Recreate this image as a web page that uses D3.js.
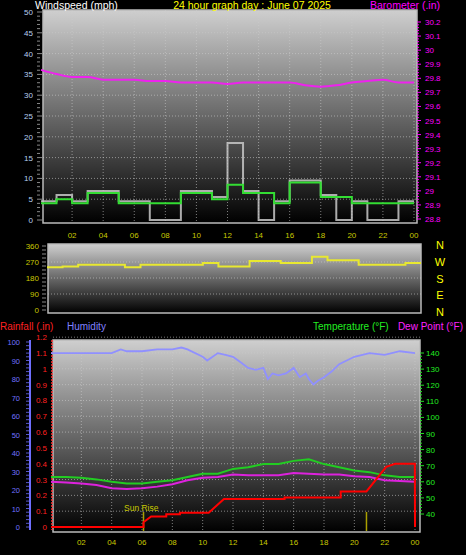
<!DOCTYPE html>
<html><head><meta charset="utf-8">
<script src="https://cdn.jsdelivr.net/npm/d3@7"></script>
<style>body{margin:0;background:#000}svg{display:block;font-family:"Liberation Sans",Arial,sans-serif}</style>
</head><body><svg id="c" width="466" height="555"></svg>
<script>
// hourly step data
var windHours = d3.range(0, 24);
var windAvg = [4,5,4,6.5,6.5,4,4,4,4,6.5,6.5,5,8.5,6.5,6.5,4,9,9,5.5,5.5,4,4,4,4];
var windGust = [4.5,6,4.5,7,7,4.5,4.5,0,0,7,7,5.5,18.5,7,0,4.5,9.5,9.5,6,0,4.5,0,0,4.5];
var baroHours = d3.range(0, 25);
var baro = [29.86,29.83,29.81,29.81,29.79,29.79,29.79,29.78,29.78,29.77,29.77,29.77,29.76,29.77,29.77,29.77,29.77,29.75,29.74,29.75,29.77,29.78,29.79,29.77,29.77];
var dirHours = d3.range(0, 24);
var windDir = [240,245,255,255,255,240,255,255,255,255,265,245,245,275,275,265,265,300,280,280,255,255,255,265];
var humHours = [0,1,2,3,4,4.6,5,6,7,8,8.6,9,10,10.3,11,11.5,12,12.5,13,13.5,14,14.3,14.6,15,15.5,16,16.4,16.8,17,17.3,17.6,18,18.5,19,19.5,20,21,22,23,24];
var humidity = [94,94,94,94,94,96,95,95,96,96,97,96,92,90,94,93,92,89,86,85,86,80,83,82,83,86,81,83,80,77,79,81,84,88,90,92,94,93,95,94];
var tHours = d3.range(0, 25);
var temp = [63,63,62.5,61.5,60,59,59,60,61,63,65,65,68,69,71,71,73,74,71,69,67,66,64,63,63];
var dew = [60,59.5,59,58,56,55.5,56,57,58.5,61,62.5,63,64.5,64,64,64,65.5,65,64.5,64.5,63.5,63,61,60.5,60];
var rainHours = [0,6.1,6.1,6.6,7.6,7.6,8.5,8.5,10.4,11.4,15.4,15.4,19.1,19.1,20.8,22.1,22.7,23.99,24];
var rain = [0,0,0.03,0.067,0.067,0.08,0.08,0.09,0.09,0.177,0.177,0.187,0.187,0.225,0.225,0.38,0.40,0.40,0];
var hourTicks = [2,4,6,8,10,12,14,16,18,20,22,24];
var windTicks = d3.range(0, 51, 5);
var baroTicks = d3.range(28.8, 30.25, 0.1);
var dirTicks = [0,90,180,270,360];
var compass = ["N","W","S","E","N"];
var humTicks = d3.range(0, 101, 10);
var rainTicks = d3.range(0, 1.25, 0.1);
var tempTicks = d3.range(40, 141, 10);
var sunMarks = [6.1, 20.8];

var svg = d3.select("#c");
var fmtH = h => h == 24 ? "00" : d3.format("02d")(h);
var defs = svg.append("defs");
var g = defs.append("linearGradient").attr("id", "bg").attr("x1", 0).attr("x2", 0).attr("y1", 0).attr("y2", 1);
g.append("stop").attr("offset", 0).attr("stop-color", "#cfcfcf");
g.append("stop").attr("offset", 1).attr("stop-color", "#000");

function panel(x0, x1, y0, y1) {
    svg.append("rect").attr("x", x0).attr("y", y0).attr("width", x1 - x0).attr("height", y1 - y0)
        .attr("fill", "url(#bg)").attr("stroke", "#bbb").attr("stroke-width", 1.5);
}
function grid(xs, ys, x, y, x0, x1, y0, y1) {
    xs.forEach(h => svg.append("line").attr("x1", x(h)).attr("x2", x(h)).attr("y1", y0).attr("y2", y1)
        .attr("stroke", "#ccc").attr("stroke-opacity", 0.6).attr("stroke-dasharray", "1,2"));
    ys.forEach(v => svg.append("line").attr("x1", x0).attr("x2", x1).attr("y1", y(v)).attr("y2", y(v))
        .attr("stroke", "#ccc").attr("stroke-opacity", 0.6).attr("stroke-dasharray", "1,2"));
}
function txt(x, y, s, col, anchor, size) {
    return svg.append("text").attr("x", x).attr("y", y).text(s).attr("fill", col)
        .attr("text-anchor", anchor || "start").attr("font-size", size || 8);
}
function stepData(hours, vals) {
    var out = [];
    hours.forEach((h, i) => { out.push([h, vals[i]]); out.push([h + 1, vals[i]]); });
    return out;
}

// ---- top: wind + barometer
var x1 = d3.scaleLinear().domain([0, 24]).range([41, 414]);
var yW = d3.scaleLinear().domain([0, 50]).range([220, 12]);
var yB = d3.scaleLinear().domain([28.8, 30.2]).range([219, 22]);
panel(43, 417, 10, 223);
grid(hourTicks, windTicks.slice(1), x1, yW, 43, 417, 10, 223);
windTicks.forEach(v => txt(33, yW(v) + 3, v, "#b8d0f0", "end"));
d3.range(0, 51).forEach(v => svg.append("line").attr("x1", 37).attr("x2", v % 5 ? 40 : 42).attr("y1", yW(v)).attr("y2", yW(v)).attr("stroke", "#888"));
baroTicks.forEach(v => txt(425, yB(v) + 3, d3.format(".1f")(v).replace(/\.0$/, ""), "#ff00ff"));
d3.range(0, 71).forEach(i => svg.append("line").attr("x1", 417).attr("x2", i % 5 ? 419 : 421).attr("y1", yB(28.8 + i * 0.02)).attr("y2", yB(28.8 + i * 0.02)).attr("stroke", "#ff00ff"));
var ln = d3.line().x(d => x1(d[0])).y(d => yW(d[1]));
svg.append("path").attr("d", ln(stepData(windHours, windGust))).attr("fill", "none").attr("stroke", "#c8c8c8").attr("stroke-width", 2).attr("opacity", 0.85);
svg.append("path").attr("d", ln(stepData(windHours, windAvg))).attr("fill", "none").attr("stroke", "#33dd33").attr("stroke-width", 2);
svg.append("path").attr("d", d3.line().x((d, i) => x1(baroHours[i])).y(d => yB(d)).curve(d3.curveMonotoneX)(baro))
    .attr("fill", "none").attr("stroke", "#ee22ee").attr("stroke-width", 2);
txt(35, 9, "Windspeed (mph)", "#fff", "start", 10.5);
txt(252, 9, "24 hour graph day : June 07 2025", "#ffff00", "middle", 10.5);
txt(440, 9, "Barometer (.in)", "#ff00ff", "end", 10.5);
hourTicks.forEach(h => txt(x1(h), 238, fmtH(h), "#c8c800", "middle"));

// ---- direction
var x2 = d3.scaleLinear().domain([0, 24]).range([47, 421]);
var yD = d3.scaleLinear().domain([0, 360]).range([310, 246]);
panel(48, 421, 244, 313);
grid([], [90, 180, 270], x2, yD, 48, 421, 244, 313);
dirTicks.forEach(v => txt(39, yD(v) + 3, v, "#c8c800", "end"));
d3.range(0, 361, 22.5).forEach(v => svg.append("line").attr("x1", 42).attr("x2", 46).attr("y1", yD(v)).attr("y2", yD(v)).attr("stroke", "#888"));
svg.append("path").attr("d", d3.line().x(d => x2(d[0])).y(d => yD(d[1]))(stepData(dirHours, windDir)))
    .attr("fill", "none").attr("stroke", "#e8e830").attr("stroke-width", 2);
compass.forEach((c, i) => txt(440, 249 + i * 16.8, c, "#ffff00", "middle", 11));

// ---- bottom
var x3 = d3.scaleLinear().domain([0, 24]).range([51, 415]);
var yH = d3.scaleLinear().domain([0, 100]).range([527, 342]);
var yR = d3.scaleLinear().domain([0, 1.1]).range([527, 353]);
var yT = d3.scaleLinear().domain([40, 140]).range([514, 353]);
panel(53, 420, 340, 532);
grid(hourTicks, rainTicks.slice(1), x3, yR, 53, 420, 340, 532);
svg.append("line").attr("x1", 30).attr("x2", 30).attr("y1", 340).attr("y2", 530).attr("stroke", "#6f6fff").attr("stroke-width", 2);
svg.append("line").attr("x1", 52).attr("x2", 52).attr("y1", 340).attr("y2", 530).attr("stroke", "#ff3333").attr("stroke-width", 1.5).attr("stroke-dasharray", "2,1");
humTicks.forEach(v => txt(20, yH(v) + 3, v, "#7070ff", "end", 7.5));
d3.range(0, 101, 2).forEach(v => svg.append("line").attr("x1", 26).attr("x2", 29).attr("y1", yH(v)).attr("y2", yH(v)).attr("stroke", "#6f6fff").attr("stroke-width", 0.8));
rainTicks.forEach(v => txt(47, yR(v) + 3, d3.format(".1f")(v).replace(/^0\./, "0.").replace(/\.0$/, ""), "#ff2020", "end", 8));
d3.range(40, 141, 2).forEach(v => svg.append("line").attr("x1", 420).attr("x2", v % 10 ? 422 : 424).attr("y1", yT(v)).attr("y2", yT(v)).attr("stroke", "#22dd22"));
tempTicks.forEach(v => txt(426, yT(v) + 3, v, "#22ee22", "start", 8));
sunMarks.forEach(h => svg.append("line").attr("x1", x3(h)).attr("x2", x3(h)).attr("y1", 512).attr("y2", 531).attr("stroke", "#aaa000").attr("stroke-width", 1.5));
txt(124, 511, "Sun Rise", "#c8c800", "start", 8.5);
svg.append("path").attr("d", d3.line().x((d, i) => x3(humHours[i])).y(d => yH(d))(humidity)).attr("fill", "none").attr("stroke", "#9090ff").attr("stroke-width", 1.8);
svg.append("path").attr("d", d3.line().x((d, i) => x3(tHours[i])).y(d => yT(d))(temp)).attr("fill", "none").attr("stroke", "#22cc22").attr("stroke-width", 2);
svg.append("path").attr("d", d3.line().x((d, i) => x3(tHours[i])).y(d => yT(d))(dew)).attr("fill", "none").attr("stroke", "#dd22dd").attr("stroke-width", 2);
svg.append("path").attr("d", d3.line().x((d, i) => x3(rainHours[i])).y(d => yR(d))(rain)).attr("fill", "none").attr("stroke", "#ff0000").attr("stroke-width", 2);
txt(0, 330, "Rainfall (.in)", "#ff2020", "start", 10);
txt(67, 330, "Humidity", "#8080ff", "start", 10);
txt(313, 330, "Temperature (°F)", "#22ee22", "start", 10);
txt(463, 330, "Dew Point (°F)", "#ff22ff", "end", 10);
hourTicks.forEach(h => txt(x3(h), 545, fmtH(h), "#c8c800", "middle"));
</script></body></html>
